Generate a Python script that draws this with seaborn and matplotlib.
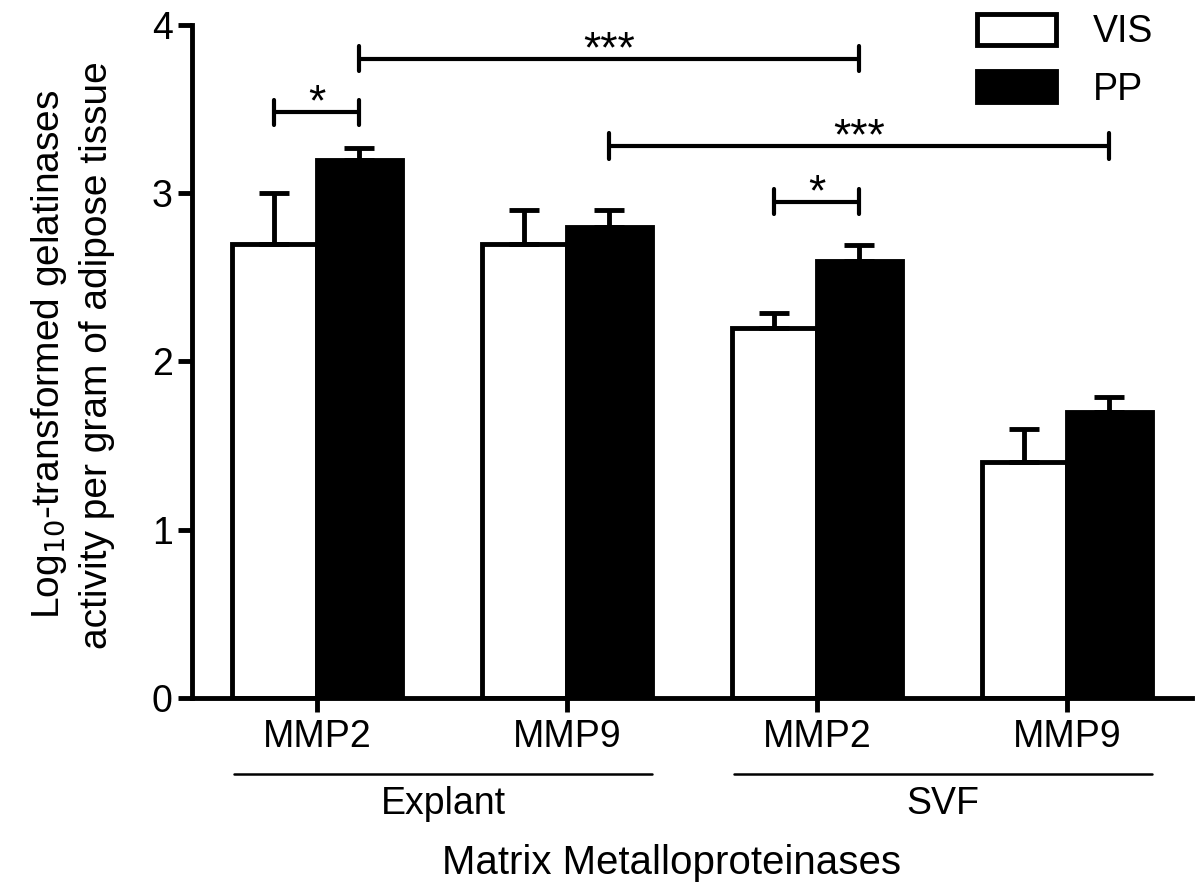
import pandas as pd
import matplotlib.pyplot as plt
import matplotlib.transforms as mtransforms
import seaborn as sns

# Values
categories = ['Explant MMP2', 'Explant MMP9', 'SVF MMP2', 'SVF MMP9']
tick_labels = ['MMP2', 'MMP9', 'MMP2', 'MMP9']
groups = ['Explant', 'SVF']
vis_mean = [2.7, 2.7, 2.2, 1.4]
vis_err = [0.30, 0.20, 0.09, 0.20]
pp_mean = [3.2, 2.8, 2.6, 1.7]
pp_err = [0.07, 0.10, 0.09, 0.09]

# significance brackets: (category index, tissue) -> (category index, tissue), height, label
sig_from = [(0, 'VIS'), (0, 'PP'), (1, 'PP'), (2, 'VIS')]
sig_to = [(0, 'PP'), (2, 'PP'), (3, 'PP'), (2, 'PP')]
sig_y = [3.48, 3.80, 3.28, 2.95]
sig_text = ['*', '***', '***', '*']

df = pd.DataFrame({
    'category': categories * 2,
    'tissue': ['VIS'] * 4 + ['PP'] * 4,
    'value': vis_mean + pp_mean,
})
errs = {'VIS': vis_err, 'PP': pp_err}

sns.set_style('ticks')
plt.rcParams['font.family'] = ['Liberation Sans', 'DejaVu Sans']
for key in ['text.color', 'axes.labelcolor', 'xtick.color', 'ytick.color']:
    plt.rcParams[key] = 'black'

fig = plt.figure(figsize=(12, 8.92), dpi=100)
ax = fig.add_axes([0.16, 0.2175, 0.8333, 0.7545])

lw = 3.5
sns.barplot(data=df, x='category', y='value', hue='tissue', order=categories,
            hue_order=['VIS', 'PP'], palette={'VIS': 'white', 'PP': 'black'},
            width=0.68, edgecolor='black', linewidth=lw, errorbar=None,
            saturation=1, ax=ax)

# upper-only error bars on top of each bar
centers = {}
for cont, tissue in zip(ax.containers, ['VIS', 'PP']):
    xs = [b.get_x() + b.get_width() / 2 for b in cont]
    ys = [b.get_height() for b in cont]
    centers[tissue] = xs
    ax.errorbar(xs, ys, yerr=[[0] * len(ys), errs[tissue]], fmt='none',
                ecolor='black', elinewidth=lw, capsize=11, capthick=lw,
                zorder=1)

# significance brackets
tick_h = 0.075
for (i0, t0), (i1, t1), y, txt in zip(sig_from, sig_to, sig_y, sig_text):
    x0 = centers[t0][i0]
    x1 = centers[t1][i1]
    ax.plot([x0, x1], [y, y], color='black', lw=3, solid_capstyle='butt')
    ax.plot([x0, x0], [y - tick_h, y + tick_h], color='black', lw=3,
            solid_capstyle='round')
    ax.plot([x1, x1], [y - tick_h, y + tick_h], color='black', lw=3,
            solid_capstyle='round')
    ax.text((x0 + x1) / 2, y - 0.02, txt, ha='center', va='baseline',
            fontsize=32)

ax.set_xlim(-0.5, 3.5)
ax.set_ylim(0, 4)
ax.set_yticks([0, 1, 2, 3, 4])
ax.set_xticks(range(len(categories)))
ax.set_xticklabels(tick_labels)
ax.tick_params(axis='both', labelsize=27, width=lw, length=10, color='black')
ax.tick_params(axis='x', pad=5)
ax.tick_params(axis='y', pad=4)
sns.despine(ax=ax)
for side in ['left', 'bottom']:
    ax.spines[side].set_linewidth(lw)
    ax.spines[side].set_color('black')

# group lines under the tick labels
trans = mtransforms.blended_transform_factory(ax.transData, ax.transAxes)
for k, g in enumerate(groups):
    left = centers['VIS'][2 * k] - 0.16
    right = centers['PP'][2 * k + 1] + 0.17
    ax.plot([left, right], [-0.113, -0.113], color='black', lw=1.8,
            transform=trans, clip_on=False)
    ax.text((left + right) / 2, -0.158, g, transform=trans, ha='center',
            va='center', fontsize=27)

ax.set_xlabel('Matrix Metalloproteinases', fontsize=29)
ax.xaxis.set_label_coords(0.48, -0.245)
ax.xaxis.label.set_va('center')
ax.set_ylabel('Log$_{10}$-transformed gelatinases\nactivity per gram of adipose tissue',
              fontsize=28, linespacing=1.35)
ax.yaxis.set_label_coords(-0.12, 0.51)
ax.yaxis.label.set_va('center')

handles, labels = ax.get_legend_handles_labels()
ax.legend(handles, labels, loc='upper left',
          bbox_to_anchor=(977 / 1200, 1 - 14 / 892),
          bbox_transform=fig.transFigure, frameon=False, fontsize=27,
          handlelength=2.1, handleheight=0.9, handletextpad=1.0,
          labelspacing=0.55, borderpad=0, borderaxespad=0)

fig.savefig('out.png', dpi=100)
